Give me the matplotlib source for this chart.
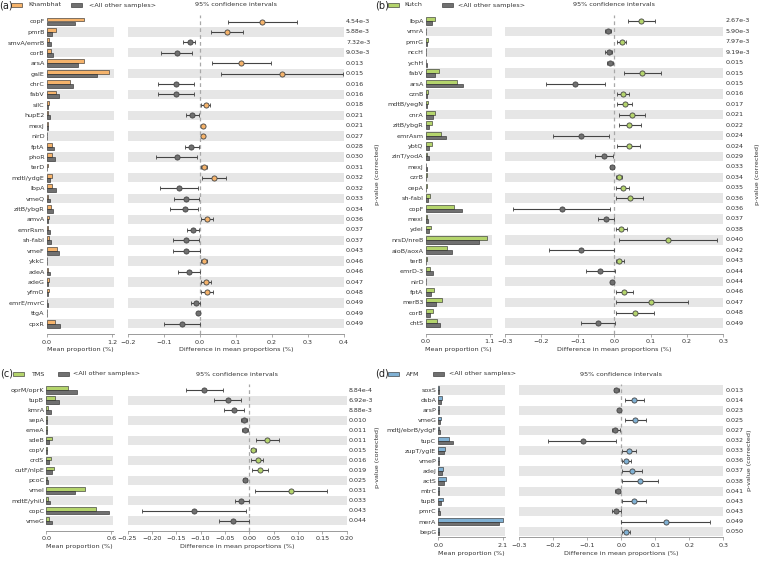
import numpy as np
import matplotlib
matplotlib.use("Agg")
import matplotlib.pyplot as plt
from matplotlib.patches import Rectangle

# ---- panel (a): Khambhat ----
a_genes = ["copF", "pmrB", "smvA/emrB", "corB", "arsA", "galE", "chrC", "fabV", "silC", "hupE2",
           "mexJ", "nirD", "fptA", "phoR", "terD", "mdtI/ydgE", "lbpA", "vmeQ", "zitB/ybgR", "amvA",
           "emrRsm", "sh-fabI", "vmeF", "ykkC", "adeA", "adeG", "yfmO", "emrE/mvrC", "ttgA", "cpxR"]
a_group = [0.68, 0.176, 0.047, 0.07, 0.69, 1.14, 0.42, 0.164, 0.035, 0.018, 0.03, 0.012, 0.106, 0.10, 0.018,
           0.10, 0.10, 0.02, 0.08, 0.04, 0.03, 0.035, 0.19, 0.012, 0.03, 0.05, 0.05, 0.01, 0.005, 0.15]
a_other = [0.52, 0.106, 0.07, 0.12, 0.57, 0.92, 0.48, 0.23, 0.023, 0.053, 0.02, 0.008, 0.134, 0.16, 0.01,
           0.06, 0.17, 0.06, 0.12, 0.02, 0.06, 0.07, 0.23, 0.005, 0.06, 0.03, 0.03, 0.02, 0.01, 0.25]
a_diff = [0.173, 0.074, -0.029, -0.064, 0.115, 0.228, -0.067, -0.067, 0.017, -0.023, 0.009, 0.008, -0.025,
          -0.064, 0.012, 0.038, -0.058, -0.038, -0.043, 0.020, -0.020, -0.039, -0.039, 0.010, -0.031,
          0.017, 0.019, -0.012, -0.006, -0.049]
a_low = [0.077, 0.030, -0.047, -0.107, 0.034, 0.059, -0.118, -0.118, 0.004, -0.039, 0.006, 0.005, -0.043,
         -0.122, 0.004, 0.005, -0.110, -0.071, -0.082, 0.003, -0.037, -0.076, -0.076, 0.003, -0.062,
         0.002, 0.002, -0.024, -0.008, -0.099]
a_high = [0.270, 0.120, -0.013, -0.022, 0.196, 0.397, -0.017, -0.017, 0.028, -0.004, 0.012, 0.011, -0.004,
          -0.008, 0.020, 0.071, -0.006, -0.004, -0.005, 0.037, -0.003, -0.002, -0.001, 0.020, -0.001,
          0.031, 0.037, -0.001, -0.004, 0.000]
a_pval = ["4.54e-3", "5.88e-3", "7.32e-3", "9.03e-3", "0.013", "0.015", "0.016", "0.016", "0.018", "0.021",
          "0.021", "0.027", "0.028", "0.030", "0.031", "0.032", "0.032", "0.033", "0.034", "0.036",
          "0.037", "0.037", "0.043", "0.046", "0.046", "0.047", "0.048", "0.049", "0.049", "0.049"]

# ---- panel (b): Kutch ----
b_genes = ["lbpA", "vmrA", "pmrG", "nccH", "ychH", "fabV", "arsA", "cznB", "mdtB/yegN", "cnrA",
           "zitB/ybgR", "emrAsm", "ybtQ", "zinT/yodA", "mexJ", "czrB", "cepA", "sh-fabI", "copF", "mexI",
           "ydeI", "nrsD/nreB", "aioB/aoxA", "terB", "emrD-3", "nirD", "fptA", "merB3", "corB", "chtS"]
b_group = [0.167, 0.005, 0.04, 0.005, 0.005, 0.227, 0.533, 0.04, 0.04, 0.167, 0.11, 0.267, 0.10, 0.022,
           0.005, 0.02, 0.02, 0.072, 0.49, 0.02, 0.083, 1.06, 0.367, 0.02, 0.067, 0.005, 0.138, 0.272,
           0.117, 0.20]
b_other = [0.10, 0.012, 0.025, 0.012, 0.015, 0.155, 0.633, 0.02, 0.02, 0.117, 0.06, 0.35, 0.055, 0.055,
           0.015, 0.01, 0.01, 0.04, 0.62, 0.04, 0.055, 0.92, 0.45, 0.01, 0.117, 0.01, 0.094, 0.183,
           0.077, 0.25]
b_diff = [0.074, -0.016, 0.021, -0.014, -0.011, 0.077, -0.107, 0.024, 0.029, 0.050, 0.042, -0.092, 0.041,
          -0.027, -0.006, 0.012, 0.024, 0.043, -0.144, -0.022, 0.019, 0.148, -0.091, 0.014, -0.039,
          -0.005, 0.027, 0.102, 0.056, -0.044]
b_low = [0.038, -0.024, 0.009, -0.024, -0.020, 0.027, -0.188, 0.009, 0.009, 0.013, 0.012, -0.168, 0.009,
         -0.052, -0.012, 0.004, 0.004, 0.006, -0.278, -0.045, 0.004, 0.012, -0.178, 0.004, -0.078,
         -0.008, 0.004, 0.004, 0.004, -0.092]
b_high = [0.111, -0.008, 0.032, -0.005, -0.002, 0.130, -0.025, 0.041, 0.050, 0.086, 0.073, -0.015, 0.072,
          -0.002, -0.001, 0.022, 0.042, 0.078, -0.011, 0.000, 0.034, 0.283, 0.000, 0.026, 0.001,
          -0.002, 0.052, 0.202, 0.110, 0.002]
b_pval = ["2.67e-3", "5.90e-3", "7.97e-3", "9.19e-3", "0.015", "0.015", "0.015", "0.016", "0.017", "0.021",
          "0.022", "0.024", "0.024", "0.029", "0.033", "0.034", "0.035", "0.036", "0.036", "0.037",
          "0.038", "0.040", "0.042", "0.043", "0.044", "0.044", "0.046", "0.047", "0.048", "0.049"]

# ---- panel (c): TMS ----
c_genes = ["oprM/oprK", "tupB", "kmrA", "sepA", "emeA", "sdeB", "copV", "crdS", "cutF/nlpE", "pcoC",
           "vmeI", "mdtE/yhiU", "copC", "vmeG"]
c_group = [0.20, 0.078, 0.013, 0.005, 0.005, 0.054, 0.008, 0.039, 0.069, 0.005, 0.353, 0.02, 0.463, 0.027]
c_other = [0.287, 0.117, 0.042, 0.01, 0.01, 0.027, 0.004, 0.024, 0.048, 0.012, 0.269, 0.036, 0.576, 0.057]
c_diff = [-0.092, -0.044, -0.032, -0.011, -0.009, 0.037, 0.008, 0.017, 0.022, -0.009, 0.085, -0.017,
          -0.114, -0.033]
c_low = [-0.130, -0.072, -0.052, -0.017, -0.015, 0.013, 0.004, 0.004, 0.006, -0.013, 0.012, -0.030,
         -0.220, -0.063]
c_high = [-0.053, -0.017, -0.010, -0.004, -0.003, 0.061, 0.013, 0.029, 0.039, -0.004, 0.159, 0.000,
          -0.006, -0.001]
c_pval = ["8.84e-4", "6.92e-3", "8.88e-3", "0.010", "0.011", "0.011", "0.015", "0.016", "0.019", "0.025",
          "0.031", "0.033", "0.043", "0.044"]

# ---- panel (d): AFM ----
d_genes = ["soxS", "dsbA", "arsP", "vmeG", "mdtJ/ebrB/ydgF", "tupC", "zupT/ygIE", "vmeP", "adeJ", "actS",
           "mtrC", "tupB", "pmrC", "merA", "bepG"]
d_group = [0.02, 0.11, 0.01, 0.08, 0.03, 0.35, 0.21, 0.03, 0.155, 0.25, 0.01, 0.14, 0.02, 2.11, 0.03]
d_other = [0.01, 0.08, 0.03, 0.05, 0.07, 0.47, 0.18, 0.01, 0.11, 0.19, 0.03, 0.10, 0.04, 1.98, 0.01]
d_diff = [-0.015, 0.038, -0.008, 0.040, -0.019, -0.114, 0.022, 0.015, 0.031, 0.055, -0.011, 0.037,
          -0.017, 0.130, 0.013]
d_low = [-0.021, 0.012, -0.011, 0.010, -0.026, -0.217, 0.001, 0.001, 0.003, 0.003, -0.018, 0.002,
         -0.026, 0.000, 0.001]
d_high = [-0.007, 0.066, -0.004, 0.072, -0.003, -0.015, 0.042, 0.028, 0.060, 0.107, -0.004, 0.073,
          -0.001, 0.260, 0.026]
d_pval = ["0.013", "0.014", "0.023", "0.025", "0.027", "0.032", "0.033", "0.036", "0.037", "0.038",
          "0.041", "0.043", "0.043", "0.049", "0.050"]

W, H = 759, 561
fig = plt.figure(figsize=(W / 100, H / 100), dpi=100)

GRAY = '#707070'
STRIPE = '#e6e6e6'
TXT = '#333333'
EDGE = '#444444'
FS = 4.6


def box(x0, y0, x1, y1):
    return [x0 / W, 1 - y1 / H, (x1 - x0) / W, (y1 - y0) / H]


def fmt_tick(t, nd):
    s = f"{round(t, nd):.{nd}f}"
    if float(s) == 0:
        s = f"{0:.{nd}f}"
    return s.replace('-', '\u2212')


def panel(tag, name, color, genes, grp, oth, diff, lo, hi, pvals, maxp, ci_ticks, nd, g):
    n = len(genes)
    y_top = g['row0'] - 0.6 * g['sp']
    y_bot = g['row0'] + (n - 1 + g['padb']) * g['sp']
    axb = fig.add_axes(box(g['bx0'], y_top, g['bx1'], y_bot))
    axc = fig.add_axes(box(g['cx0'], y_top, g['cx1'], y_bot))
    ys = np.arange(n)
    for ax in (axb, axc):
        ax.set_ylim(n - 1 + g['padb'], -0.6)
        for i in ys:
            if (n - 1 - i) % 2 == 0:
                ax.axhspan(i - 0.45, i + 0.45, color=STRIPE, lw=0, zorder=0)
        for s in ['top', 'right', 'left']:
            ax.spines[s].set_visible(False)
        ax.spines['bottom'].set_color('#8a8a8a')
        ax.spines['bottom'].set_linewidth(0.6)
        ax.tick_params(axis='x', labelsize=FS, length=2, width=0.5, color='#8a8a8a',
                       pad=2, labelcolor=TXT)
        ax.set_facecolor('none')

    # mean proportion bars
    axb.barh(ys - 0.185, grp, height=0.37, color=color, edgecolor='#222222', linewidth=0.4, zorder=2)
    axb.barh(ys + 0.185, oth, height=0.37, color=GRAY, edgecolor='#222222', linewidth=0.4, zorder=2)
    axb.set_xlim(0, maxp * 1.03)
    axb.set_xticks([0, maxp])
    axb.set_xticklabels(['0.0', f'{maxp:.1f}'])
    axb.set_yticks(ys)
    axb.set_yticklabels(genes)
    axb.tick_params(axis='y', length=0, pad=1.5, labelsize=FS, labelcolor=TXT)
    axb.set_xlabel('Mean proportion (%)', fontsize=FS, color=TXT, labelpad=2)

    # confidence intervals
    axc.set_yticks([])
    axc.axvline(0, color='#a8a8a8', lw=0.9, ls=(0, (3, 2.5)), zorder=1)
    for i in ys:
        c = color if diff[i] > 0 else GRAY
        axc.errorbar(diff[i], i, xerr=[[diff[i] - lo[i]], [hi[i] - diff[i]]], fmt='o', ms=3.7,
                     mfc=c, mec=EDGE, mew=0.6, ecolor=EDGE, elinewidth=0.8, capsize=1.6,
                     capthick=0.7, zorder=3)
    axc.set_xlim(ci_ticks[0], ci_ticks[-1])
    axc.set_xticks(ci_ticks)
    axc.set_xticklabels([fmt_tick(t, nd) for t in ci_ticks])
    axc.set_xlabel('Difference in mean proportions (%)', fontsize=FS, color=TXT, labelpad=2)
    off = 2.0 / (g['cx1'] - g['cx0'])
    for i in ys:
        axc.text(1 + off, i, pvals[i], transform=axc.get_yaxis_transform(), ha='left', va='center',
                 fontsize=FS, color=TXT)

    # headings
    fig.text(((g['cx0'] + g['cx1']) / 2) / W, 1 - g['ty'] / H, '95% confidence intervals',
             ha='center', va='center', fontsize=FS, color=TXT)
    fig.text(g['rx'] / W, 1 - ((y_top + y_bot) / 2) / H, 'p-value (corrected)', rotation=90,
             ha='center', va='center', fontsize=FS, color=TXT)

    # legend
    lx, ly = g['lx'], g['ty']
    fig.text(lx / W, 1 - ly / H, tag, ha='left', va='center', fontsize=7, color='#222222')
    for (px, pw, tx, col, lab) in [(g['p1'], 11, g['t1'], color, name),
                                   (g['p2'], 11, g['t2'], GRAY, '<All other samples>')]:
        fig.add_artist(Rectangle(((lx + px) / W, 1 - (ly + 2) / H), pw / W, 4 / H,
                                 transform=fig.transFigure, facecolor=col, edgecolor='#222222',
                                 linewidth=0.4))
        fig.text((lx + tx) / W, 1 - ly / H, lab, ha='left', va='center', fontsize=FS, color=TXT)


geo_a = dict(bx0=46.7, bx1=114.3, cx0=128, cx1=344, row0=21.5, sp=10.42, padb=1.0, ty=5, rx=377,
             lx=-1, p1=12, t1=29, p2=72, t2=90)
geo_b = dict(bx0=425.7, bx1=491.7, cx0=505, cx1=723.3, row0=21.0, sp=10.42, padb=1.0, ty=5, rx=757,
             lx=375, p1=13, t1=29, p2=67, t2=83)
geo_c = dict(bx0=46.3, bx1=113.3, cx0=127.5, cx1=346.7, row0=390, sp=10.05, padb=1.0, ty=374, rx=378,
             lx=0, p1=13, t1=31, p2=58, t2=73)
geo_d = dict(bx0=438.3, bx1=505, cx0=519.3, cx1=723.3, row0=390, sp=10.12, padb=0.55, ty=374, rx=750,
             lx=375, p1=13, t1=31, p2=58, t2=74)

ORANGE = '#f5b36b'
GREEN = '#b4d46c'
BLUE = '#80b1d4'

panel('(a)', 'Khambhat', ORANGE, a_genes, a_group, a_other, a_diff, a_low, a_high, a_pval, 1.2,
      [-0.2, -0.1, 0.0, 0.1, 0.2, 0.3, 0.4], 1, geo_a)
panel('(b)', 'Kutch', GREEN, b_genes, b_group, b_other, b_diff, b_low, b_high, b_pval, 1.1,
      [-0.3, -0.2, -0.1, 0.0, 0.1, 0.2, 0.3], 1, geo_b)
panel('(c)', 'TMS', GREEN, c_genes, c_group, c_other, c_diff, c_low, c_high, c_pval, 0.6,
      [-0.25, -0.20, -0.15, -0.10, -0.05, 0.0, 0.05, 0.10, 0.15, 0.20], 2, geo_c)
panel('(d)', 'AFM', BLUE, d_genes, d_group, d_other, d_diff, d_low, d_high, d_pval, 2.1,
      [-0.3, -0.2, -0.1, 0.0, 0.1, 0.2, 0.3], 1, geo_d)

fig.savefig('out.png', dpi=100)
